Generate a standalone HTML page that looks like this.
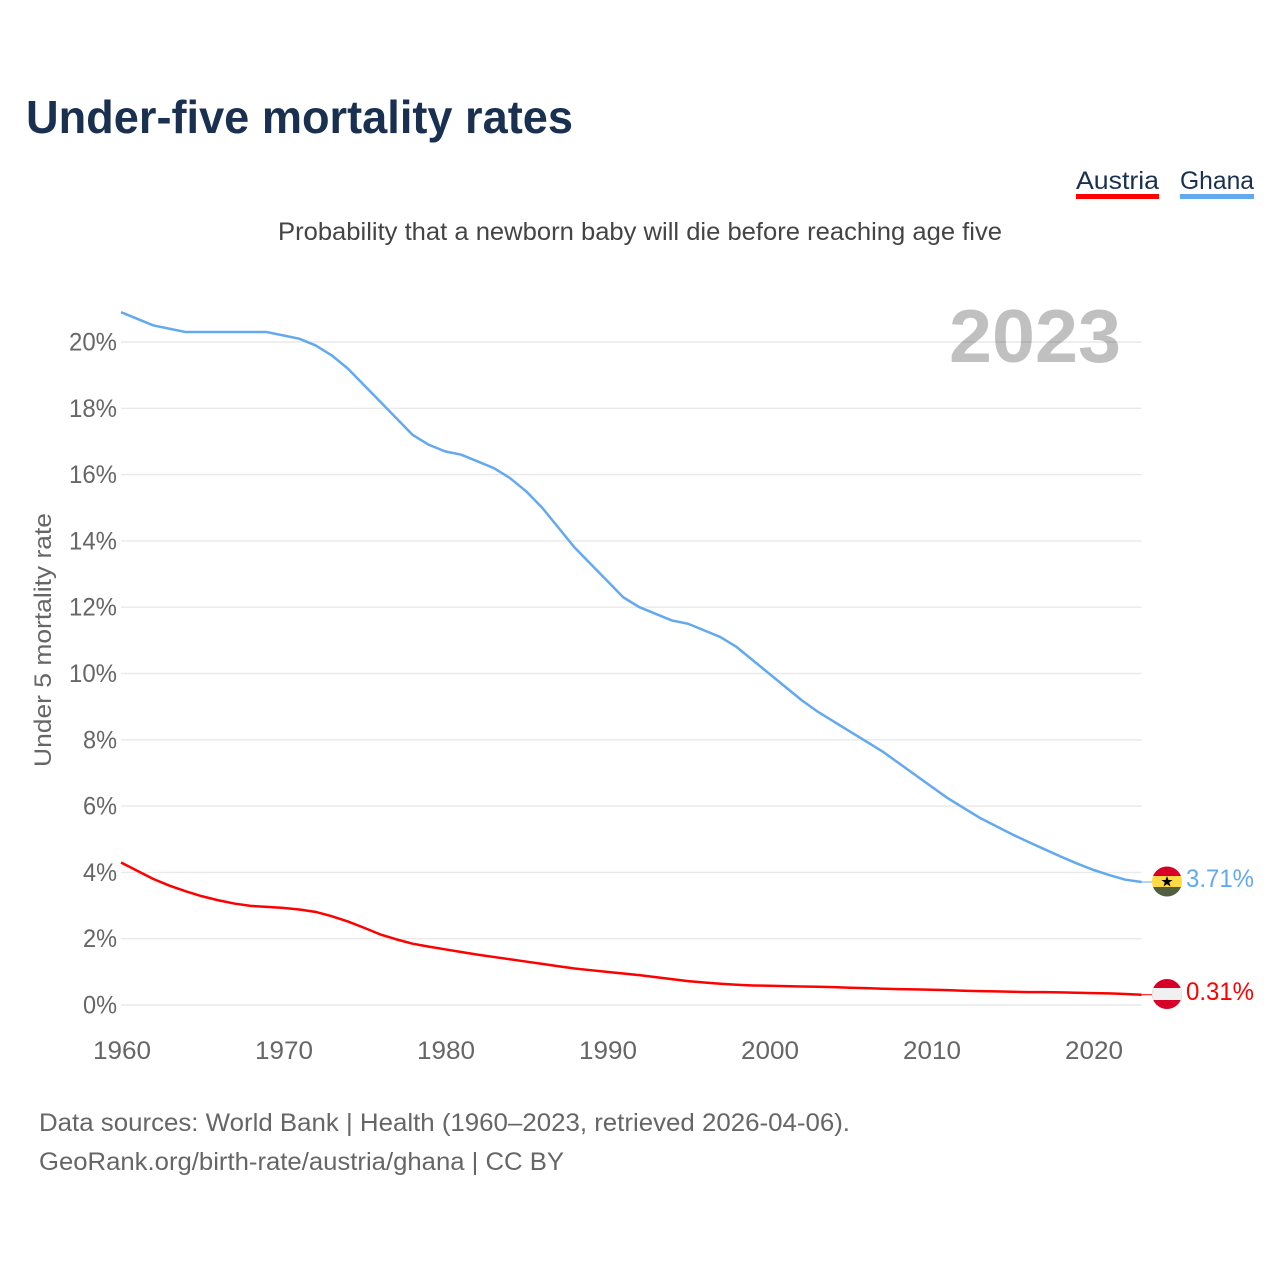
<!DOCTYPE html>
<html lang="en">
<head>
<meta charset="utf-8">
<title>Under-five mortality rates</title>
<style>
html,body{margin:0;padding:0;background:#fff}
svg{display:block}
text{font-family:"Liberation Sans",Arial,sans-serif}
</style>
</head>
<body>
<svg id="chart" xmlns="http://www.w3.org/2000/svg" width="1280" height="1280" viewBox="0 0 1280 1280">
  <rect width="1280" height="1280" fill="#fff"/>
  <text x="26" y="133" font-size="46" font-weight="700" fill="#1a3050" textLength="547" lengthAdjust="spacingAndGlyphs">Under-five mortality rates</text>
  <text x="278" y="240" font-size="25" fill="#444" textLength="724" lengthAdjust="spacingAndGlyphs">Probability that a newborn baby will die before reaching age five</text>

  <g>
    <text x="1076" y="189" font-size="25" fill="#1a3050" textLength="83" lengthAdjust="spacingAndGlyphs">Austria</text>
    <rect x="1076" y="194" width="83" height="5" fill="#ff0000"/>
    <text x="1180" y="189" font-size="25" fill="#1a3050" textLength="74" lengthAdjust="spacingAndGlyphs">Ghana</text>
    <rect x="1180" y="194" width="74" height="5" fill="#63a9f0"/>
  </g>

  <text x="949" y="362" font-size="75" font-weight="700" fill="#c0c0c0" textLength="172" lengthAdjust="spacingAndGlyphs">2023</text>

  <g id="grid"></g>
  <g id="yticks"></g>
  <g id="xticks"></g>
  <text transform="translate(51,767) rotate(-90)" font-size="24.5" fill="#666" textLength="254" lengthAdjust="spacingAndGlyphs">Under 5 mortality rate</text>
  <g id="series"></g>

  <defs>
    <clipPath id="clip-ghana"><circle cx="1167" cy="881.5" r="15"/></clipPath>
    <clipPath id="clip-austria"><circle cx="1167" cy="994" r="15"/></clipPath>
  </defs>
  <g clip-path="url(#clip-ghana)">
    <rect x="1152" y="866" width="30" height="10" fill="#d80027"/>
    <rect x="1152" y="876" width="30" height="11" fill="#ffda44"/>
    <rect x="1152" y="887" width="30" height="11" fill="#4f5f3f"/>
    <polygon fill="#000" points="1167,876 1168.4,880 1172.6,880 1169.2,882.5 1170.5,886.5 1167,884.1 1163.5,886.5 1164.8,882.5 1161.4,880 1165.6,880"/>
  </g>
  <g clip-path="url(#clip-austria)">
    <rect x="1152" y="979" width="30" height="31" fill="#d80027"/>
    <rect x="1152" y="988" width="30" height="12" fill="#f0f0f0"/>
  </g>
  <text id="label-ghana" x="1186" y="887" font-size="25" fill="#63a9f0" textLength="68" lengthAdjust="spacingAndGlyphs">3.71%</text>
  <text id="label-austria" x="1186" y="1000" font-size="25" fill="#ff0000" textLength="68" lengthAdjust="spacingAndGlyphs">0.31%</text>

  <text x="39" y="1131" font-size="25" fill="#666" textLength="811" lengthAdjust="spacingAndGlyphs">Data sources: World Bank | Health (1960–2023, retrieved 2026-04-06).</text>
  <text x="39" y="1170" font-size="25" fill="#666" textLength="525" lengthAdjust="spacingAndGlyphs">GeoRank.org/birth-rate/austria/ghana | CC BY</text>
</svg>
<script>
const startYear = 1960;
const yTickValues = [0, 2, 4, 6, 8, 10, 12, 14, 16, 18, 20];
const xTickValues = [1960, 1970, 1980, 1990, 2000, 2010, 2020];
const ghanaValues = [20.9, 20.7, 20.5, 20.4, 20.3, 20.3, 20.3, 20.3, 20.3, 20.3, 20.2, 20.1, 19.9, 19.6, 19.2, 18.7, 18.2, 17.7, 17.2, 16.9, 16.7, 16.6, 16.4, 16.2, 15.9, 15.5, 15.0, 14.4, 13.8, 13.3, 12.8, 12.3, 12.0, 11.8, 11.6, 11.5, 11.3, 11.1, 10.8, 10.4, 10.0, 9.6, 9.2, 8.85, 8.55, 8.25, 7.95, 7.65, 7.3, 6.95, 6.6, 6.25, 5.95, 5.65, 5.4, 5.15, 4.92, 4.7, 4.48, 4.27, 4.08, 3.92, 3.78, 3.71];
const austriaValues = [4.3, 4.05, 3.8, 3.6, 3.43, 3.28, 3.16, 3.06, 2.99, 2.96, 2.93, 2.88, 2.81, 2.68, 2.52, 2.33, 2.13, 1.98, 1.85, 1.76, 1.68, 1.6, 1.52, 1.45, 1.38, 1.31, 1.24, 1.17, 1.1, 1.05, 1.0, 0.95, 0.9, 0.84, 0.78, 0.72, 0.68, 0.64, 0.61, 0.59, 0.58, 0.57, 0.56, 0.55, 0.54, 0.52, 0.51, 0.49, 0.48, 0.47, 0.46, 0.45, 0.43, 0.42, 0.41, 0.4, 0.39, 0.39, 0.38, 0.37, 0.36, 0.35, 0.33, 0.31];

const NS = 'http://www.w3.org/2000/svg';
function xScale(year) { return 121 + (year - 1960) * 16.2; }
function yScale(value) { return 1005 - value * 33.15; }
function make(tag, parent) {
  const el = document.createElementNS(NS, tag);
  parent.appendChild(el);
  return el;
}
const gridGroup = document.getElementById('grid');
const yGroup = document.getElementById('yticks');
const xGroup = document.getElementById('xticks');
const seriesGroup = document.getElementById('series');

yTickValues.forEach(function (v) {
  const line = make('line', gridGroup);
  
  
  line.setAttribute('x1', xScale(1960));
  line.setAttribute('x2', xScale(2023));
  line.setAttribute('y1', yScale(v));
  line.setAttribute('y2', yScale(v));
  line.setAttribute('stroke', 'rgba(0,0,0,0.085)');
  line.setAttribute('stroke-width', '1.4');

  const label = make('text', yGroup);
  
  
  label.setAttribute('x', 117);
  label.setAttribute('y', yScale(v) + 8.5);
  label.setAttribute('text-anchor', 'end');
  label.setAttribute('font-size', '25');
  label.setAttribute('fill', '#666');
  label.setAttribute('textLength', v >= 10 ? 48 : 34);
  label.setAttribute('lengthAdjust', 'spacingAndGlyphs');
  label.textContent = v + '%';
});

xTickValues.forEach(function (year) {
  const label = make('text', xGroup);
  
  
  label.setAttribute('x', xScale(year) + 1);
  label.setAttribute('y', 1059);
  label.setAttribute('text-anchor', 'middle');
  label.setAttribute('font-size', '25');
  label.setAttribute('fill', '#666');
  label.setAttribute('textLength', 58);
  label.setAttribute('lengthAdjust', 'spacingAndGlyphs');
  label.textContent = year;
});

function drawSeries(values, color, name, flagX) {
  const points = values.map(function (v, i) {
    return xScale(startYear + i).toFixed(2) + ',' + yScale(v).toFixed(2);
  }).join(' ');
  const path = make('polyline', seriesGroup);
  
  
  path.setAttribute('points', points);
  path.setAttribute('fill', 'none');
  path.setAttribute('stroke', color);
  path.setAttribute('stroke-width', '2.5');
  path.setAttribute('stroke-linejoin', 'round');

  const last = values[values.length - 1];
  const lead = make('line', seriesGroup);
  
  
  lead.setAttribute('x1', xScale(startYear + values.length - 1));
  lead.setAttribute('x2', flagX);
  lead.setAttribute('y1', yScale(last));
  lead.setAttribute('y2', yScale(last));
  lead.setAttribute('stroke', color);
  lead.setAttribute('stroke-width', '1');
}
drawSeries(ghanaValues, '#63a9f0', 'ghana', 1152);
drawSeries(austriaValues, '#ff0000', 'austria', 1152);
</script>
</body>
</html>
